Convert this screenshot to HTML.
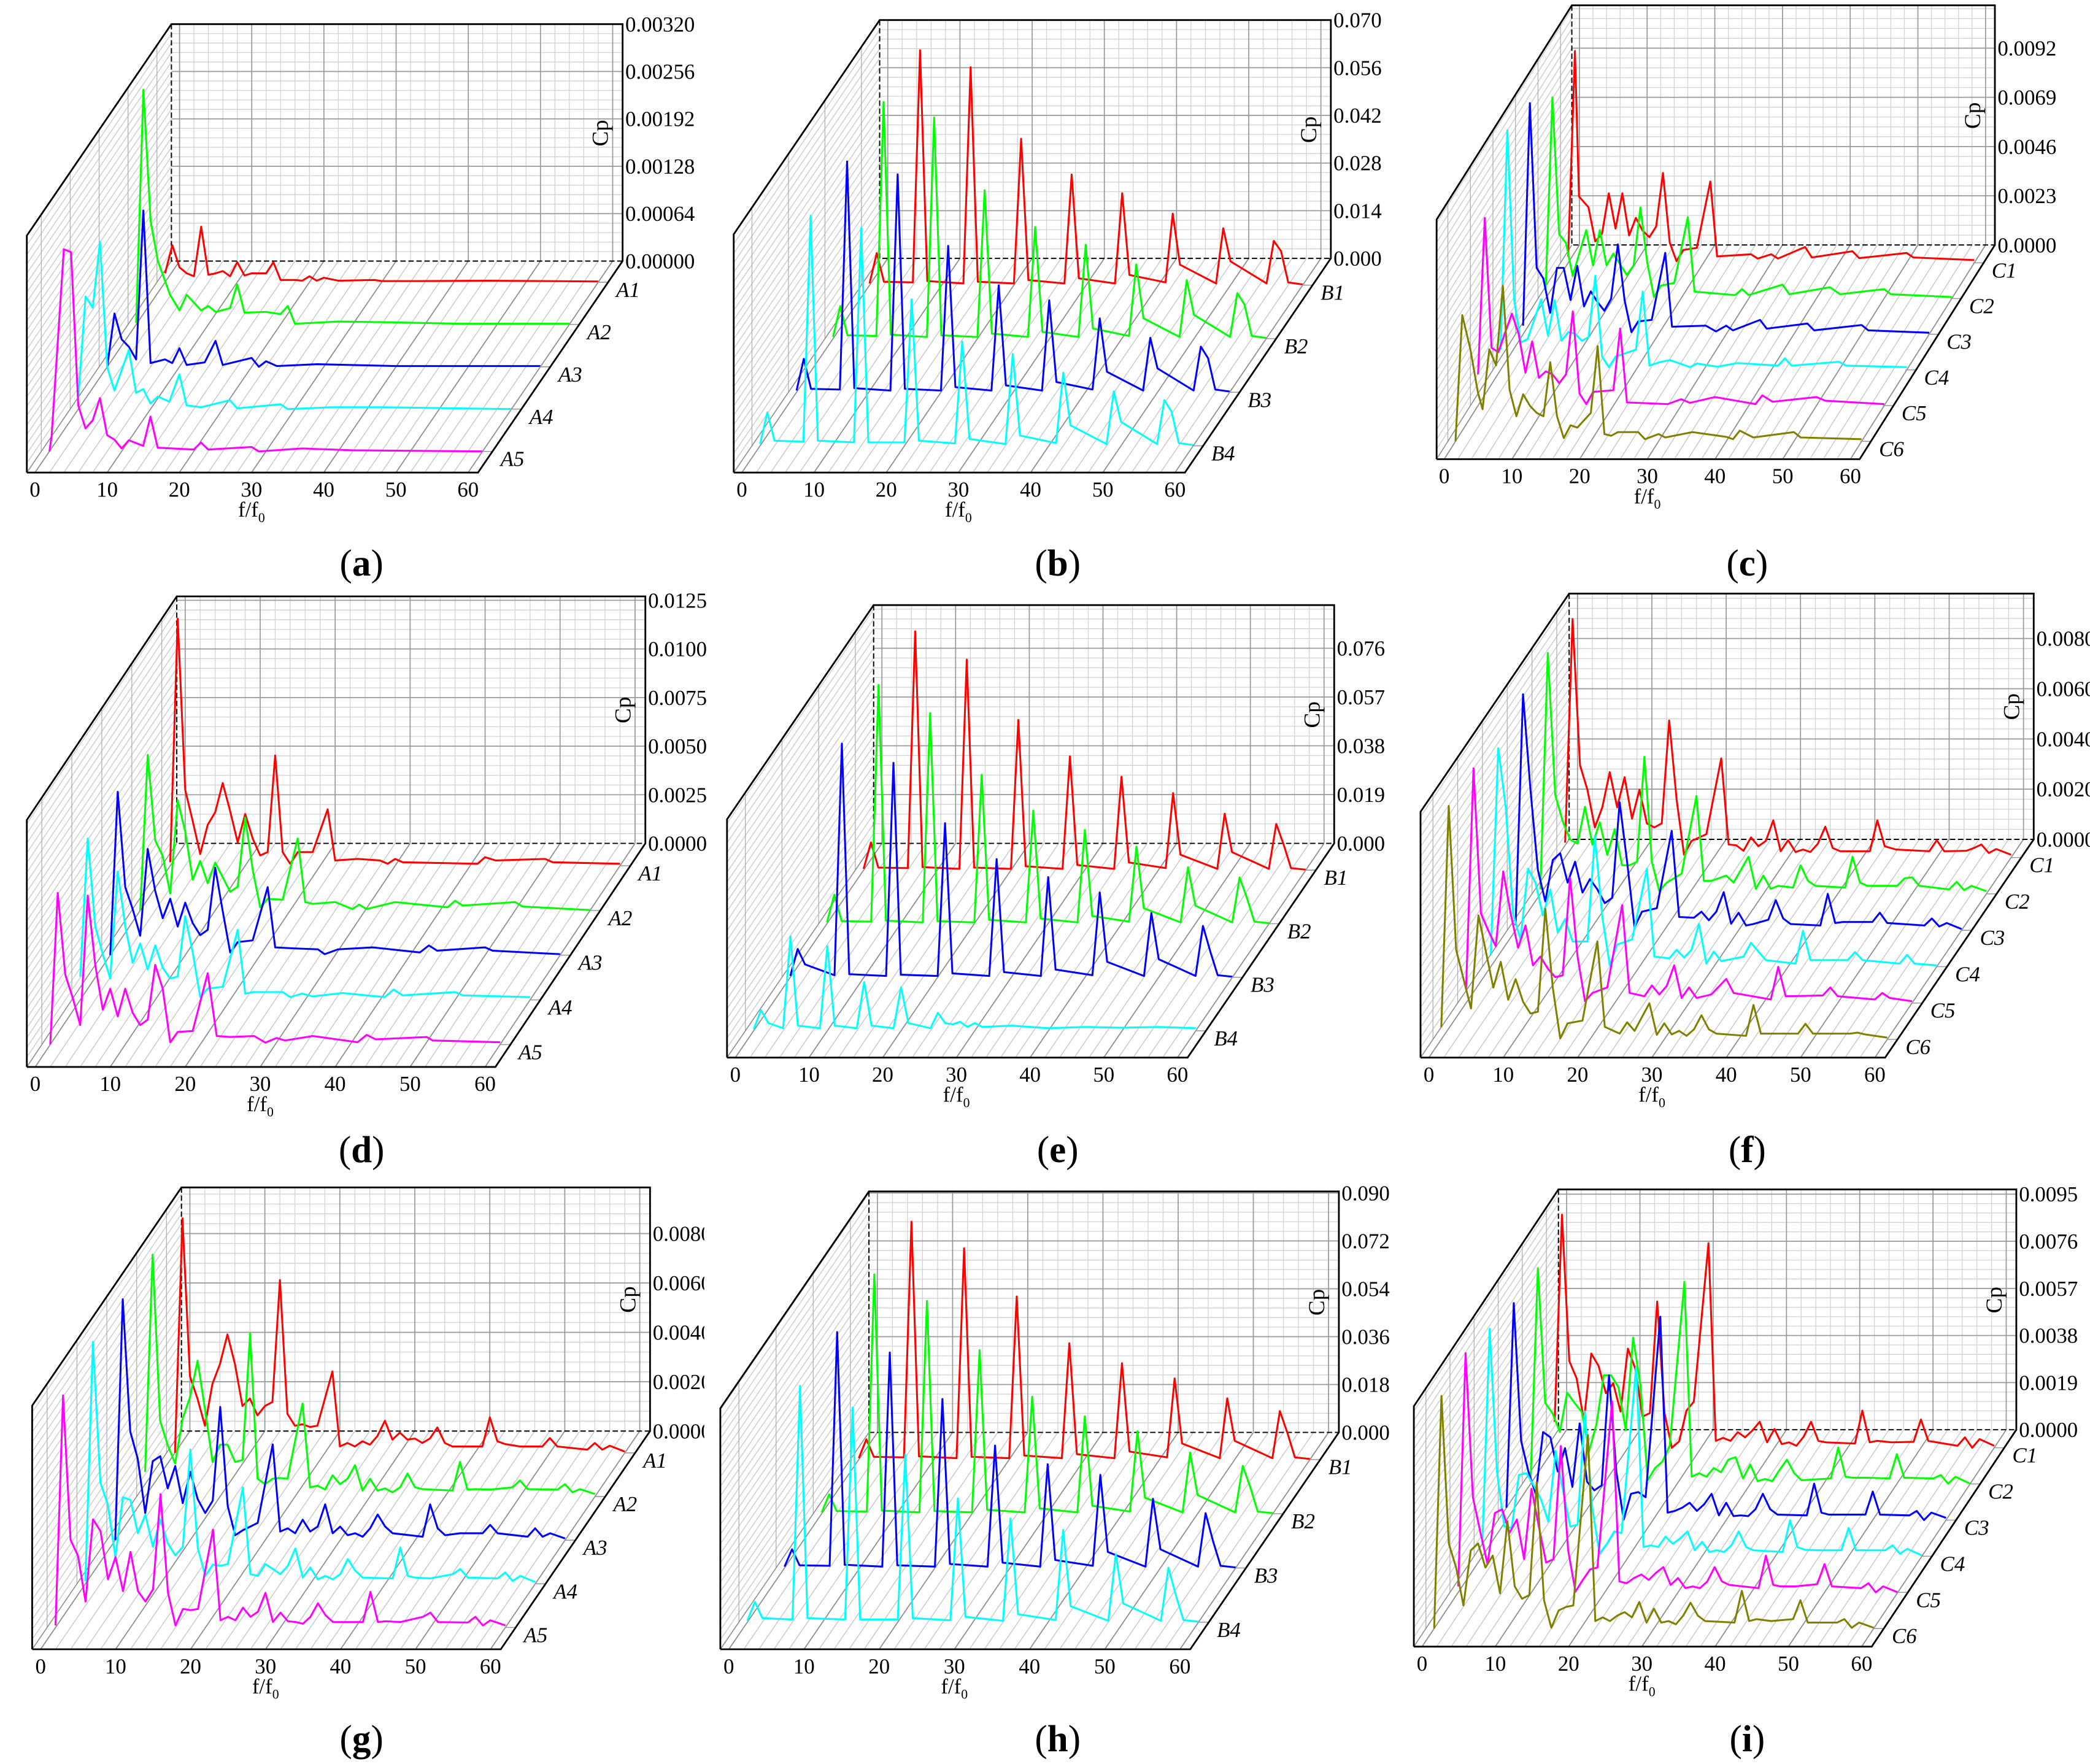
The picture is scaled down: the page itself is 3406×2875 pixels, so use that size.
<!DOCTYPE html>
<html><head><meta charset="utf-8">
<style>
html,body{margin:0;padding:0;background:#fff;}
svg{display:block;font-family:"Liberation Serif","DejaVu Serif",serif;}
svg text{font-family:"Liberation Serif","DejaVu Serif",serif;fill:#000;}
</style></head>
<body>
<svg id="chart" xmlns="http://www.w3.org/2000/svg" width="3406" height="2875" viewBox="0 0 1561 1317.7" font-family="Liberation Serif, DejaVu Serif, serif">
<defs><clipPath id="clip-g"><rect x="0" y="850" width="526" height="470"/></clipPath></defs>
<rect x="0" y="0" width="1561" height="1317.7" fill="#fff"/>
</svg>
<script>
// ---------- data (Cp values in panel units: a,c,d,f,g,i = 1e-4 ; b,e,h = 1e-3) ----------
const panelA_freq = [
 [0,1,2,3,4,5,6,7,8,9,10,11,12,13,14,15,16,18,19,20,21,22,24,29,30,35,45,60],
 [0,1,2,3,4.7,6,7,9,10,11,13,14,15,18,20,21,22,28,35,45,60],
 [0,1,2,3,4,5,6,8,9,10,11,13.5,15,16,20,21,22,23.5,29,40,60],
 [0,1,2,3,4,5,7,8,9,10,11,12.6,14,15,17,21,22,28,29,35,42,60],
 [0,0.3,2,3,4,5,6,7,8,9,10,11,13,14,15,20,21,22,28,29,35,42,60]];
const panelA_amp = [
 [1.2,5,2,1.2,0.8,7.5,1,1.2,1.5,0.8,2.7,0.9,1.2,1.2,1.2,2.7,0.3,0.3,0.2,0.8,0.2,0.6,0.2,0.3,0.15,0.15,0.2,0.1],
 [0.2,31.7,14,8.6,4,1.9,4,1.9,2.5,1.7,2.2,5.4,1.6,1.7,1.4,2.5,0.1,0.4,0.3,0.1,0.1],
 [0,7.2,3.7,2.7,1,21.1,0.5,1,0.5,2.5,0.25,0.6,3.5,0.25,1.2,0,0.75,0.1,0.35,0.1,0.1],
 [1.5,15.2,13.7,22.6,5.7,2.5,8,2.2,2.7,0.75,1.7,1,4.7,0.5,0.25,1.2,0.1,0.65,0,0.25,0.25,0],
 [0,2,27.3,26.9,6.2,3.1,4.2,7.2,2.2,1.6,0.4,1.5,0.75,4.7,0.5,0.25,1.2,0.25,0.6,0,0.4,0.15,0]];

const panelB_freq = [0,1,2,6,7,8,13,14,15,20,21,22,27,28,29,34,35,36,41,42,43,48,49,50,55,56,57,58,60];
const panelB_amp = [
 [0.5,9.4,1,0.8,69,1.2,0.5,64,1,0.5,43,1.5,0.5,32.5,2,0.5,27,3,0.8,21,6,0.5,16.7,7,0.5,13,10,0.8,0.2],
 [0.5,9.6,1,0.8,69.5,1.2,0.5,65,1,0.5,43.6,1.5,0.5,32.8,2,0.5,27.6,3,0.8,21.8,6,0.5,17.2,7,0.5,13.4,10,0.8,0.2],
 [0.5,9.8,1,0.8,67.8,1.2,0.5,64,1,0.5,43,1.5,0.5,31.4,2,0.5,27,3,0.8,21.7,6,0.5,16,7,0.5,13.4,10,0.8,0.2],
 [0.5,9.8,1.5,1.2,67.6,1.5,1,64,1,1,43,1.5,0.7,30.6,2,0.5,27,3,0.8,21.5,6,0.5,16,7,0.5,13.4,10,0.8,0.2]];

const panelC_freq = [
 [0,1,1.6,3,4,5,6,7,8,9,10,11,12,13,14,15,16,17,19,21,22,27,28,30,31,35,36,42,43,50,51,60],
 [0,1,2,3,4,6,7,8,9,10,12,13,14,15,16,17,19,21,22,28,29,30,35,36,42,43.5,50,51,60],
 [0,1,2,3,4,5,6,7,8,9,10,11,12,13,14,15,16,17,19,21,22,27,28.5,30,31,35,36,42,43,50,51,60],
 [0,1,2,3,4,6,7,8,9,10,11,12,13,14,15,16,17,20,21,22,23.5,25,28,29,32,35,41,42,43,50,51,60],
 [0,1,2,3,4,5,6,7,8,9,10,11,12,13,14,15,16,17,20,21,22,28,30,31.3,35,41,42,43.5,50,51.3,60],
 [0,1,2.2,3.3,4,5,6,7,8,9,10,11,12,13,14,15,16,17,18,20,21,22,23,24,27,28,30,31,35,40,41,42,44,50,51,60]];
const panelC_amp = [
 [3,99,31,26,10,13.6,32.5,16,32.5,12.8,21,15,12,17,42,9.5,0.8,6,7,38,3,4,2,4,2,7.4,2.5,5.4,2.2,4.6,2.5,1.3],
 [4,94,30,26,10.6,32,15.5,32,15.5,21,11,15.5,42.6,17,0.7,6,7.3,38,3.2,1.6,4.4,1.6,6.5,2,5.3,2,4.4,2,0.7],
 [4,108,31,26,10,31,31,16,32,13,20,15,11,16.6,42,15.8,1,6,6.7,38,3.5,4,1.3,4,1.8,6.7,2.6,5,1.8,4.3,1.8,0.7],
 [9.5,112,33,12.8,14.5,33,16,32.5,13.6,17.7,17,13.6,15.3,44,6.2,1.3,6.2,9.5,36.6,2,3.6,4.6,1.3,3,1.5,3.2,2,5.4,2,3.8,2,1.3],
 [14.6,87.7,27,25,34,43,33.5,15.4,30,13,16,14.6,10.5,14.6,44,5.6,0.7,6.4,7.2,36,1.5,0.7,3,1.3,4,0.7,4.8,1.8,4,2.3,0.7],
 [0,59,43,23,15,43,35.5,72.7,24,11.7,22,16.6,13.3,11.7,37,11.7,1.5,7.5,6.4,13.3,44.5,3.4,2.6,4.3,4.3,1,3.4,1.8,4.3,2.1,1,5,1.8,4.3,1.8,1]];

const panelD_freq = [
 [0,1,2,3,4,5,6,7,8,9,10,11,12,13,14,15,16,17,19,21,22,25,28,29,30,31,41,42,43.4,50,51,60],
 [0,1,2,3,4,5,6,7,8,9,10,12,13,14,15,16,17,19,21,22,23,26,28.3,29.2,30.2,34,41,42,43,50,51,60],
 [0,1,2,3,4,5,6,7,8,9,10,11,12,13,14,15,16,17,19,21,22,24.4,27.7,28.6,30.4,35,41.3,42.5,43.6,50,51,60],
 [0,1,2,3,4,5,6,7,8,9,10,11,12,13,14,15,16,17,19,21,22,23,27,28,29.6,31,35,40.6,41.8,43,50,51,60],
 [0,1,2,3,4,5,6,7,8,9,10,11,12,13,14,15,16,17,19,21,22.2,24,27.2,28.7,30.2,31.3,35,41,42.2,43.4,50.2,51,60]];
const panelD_amp = [
 [1.8,127,39,23,6,21,27.5,42.5,28,12,26.6,14,5.3,7,56.7,7,1,7,7,29,2.7,3.5,2.7,1,3.5,1.8,1,4.4,2.7,3.5,1.8,1],
 [0,80,36,28,8.7,56.6,40.6,15.8,25.5,14,24.6,9.6,12.2,47.7,21,1.6,6,5.5,37,4.3,3.4,4.3,0.7,3,0.7,4.3,1.6,5,2.5,4.3,2,0.2],
 [0,84,35,23.6,10,54.6,33,19,29,14.7,27,16.5,10.3,13,45,22.7,1.4,6.7,7.6,35,4,3.5,3,0.5,3,4,1.4,5,2.3,4,2.3,0.5],
 [12,83,37.8,23.6,11,66,37.8,19,29,15.6,28,16.5,11,12,43,24.5,1.4,5.8,6.7,36,3.2,4,4,1.4,3.2,1.8,3.5,1.4,5.3,2.3,4,2.3,1.4],
 [0,78,36,24,10,76.6,41,18,28.7,14.5,28.7,16.3,10,12.8,41,28.7,1.2,6.5,7,36.7,4.4,3.9,4.4,1,3.4,2.1,4.4,1.2,5,2.7,3.9,2.1,1.2]];

const panelE_freq = [
 [0,1,2,6,7,8,13,14,15,20,21,22,27,28,29,34,35,36,41,42,43,48,49,50,55,56,57,58,60],
 [0,1,2,6,7,8,13,14,15,20,21,22,27,28,29,34,35,36,41,42,43,48,49,50,55,56,57,58,60],
 [0,1,2,6,7,8,13,14,15,20,21,22,27,28,29,34,35,36,41,42,43,48,49,50,55,56,57,58,60],
 [0,1,2,4,5,6,9,10,11,14,15,16,19,20,21,24,25,26,27,28,29,30,31,35,40,45,50,55,60]];
const panelE_amp = [
 [0.5,10.8,1,0.8,93,1.2,0.5,82,1,0.5,58.5,1.5,0.5,44.3,2,0.5,36.4,3,0.8,30,6,0.5,22,7,0.5,18,10,0.8,0.2],
 [0.5,11.3,1,0.8,93,1.2,0.5,82,1,0.5,58,1.5,0.5,44,2,0.5,36.5,3,0.8,30,6,0.5,22,7,0.5,18,10,0.8,0.2],
 [0.5,11,5,0.8,91,1.2,0.5,83.5,1,0.5,60,1.5,0.5,46,2,0.5,39,3,0.8,33,6,0.5,25,7,0.5,20,10,0.8,0.2],
 [0.5,8,3,1,36.8,2,1,33,2,1,19,2,1,17,3,1,7,3,2.5,3.5,1.5,3,1.5,2,1,1.5,1.2,1.5,1]];

const panelF_freq = [
 [0,1,2,3,4,5,6,7,8,9,10,11,12,13,14,15,16,17,19,21,22,23,24,25,26,27,28,29,30,31,32,33,34,35,36,37,41,42,43,44.5,49,50,51,54,55,56,57,58,60],
 [0,1,2,3,4,5,6,7,8,9,10,11,12,13,14,15,16,17,19,21,22,23,25,26,28,29,30,31,32,34,35,36,37,41,42,43,44,48,49,50,51,55,56,57,58,60],
 [0,1,2,3,4,5,6,7,8,9,10,11,12,13,14,15,16,17,19,21,22,24,25,26,27,28,29,30,31,32,34,35,36,37,41,42,43,44,48,49,50,55,56,57,58,60],
 [0,1,2,3,4,5,6,7,8,9,10,11,12,13,14,15,16,17,19,21,22,24,25,26,27,28,29,30,31,34,35,36,37,41,42,43,48,49,50,55,56,57,60],
 [0,1,2,3,4,5,6,7,8,9,10,11,12,13,14,15,16,17,19,21,22,24,25,26,27,28,29,30,31,33,35,36,41,42,43,48,49,50,55,56,57,60],
 [0,1,2,3,4,5,6,7,8,9,10,11,12,13,14,15,16,17,19,21,22,24,25,26,28,29,30,31,32,33,34,35,36,37,41,42,43,48,49,50,55,56,57,60]];
const panelF_amp = [
 [5.9,95,36.8,27,12,20,34,20,32,15.5,27,13.6,12,13.6,54.6,23,1.1,6.6,9.3,39.5,5.2,4.9,2.7,8,4.5,6.6,14.8,2.5,6.9,2.2,3.2,2.2,5.5,12.3,3.8,2.5,2.5,14.8,4.5,3.2,2.5,6.9,2.5,2.7,3.8,5.2,1.8,3.4,1.1],
 [1.8,96,39.5,29,21.7,20,34.7,19.6,28.5,15.5,25.8,11.4,11.4,12.8,54.6,12.8,1.1,4.5,8,39,5.2,5.2,7.3,4.5,14.8,2,7.3,2,3.2,2.5,11.4,5.2,3.2,2.5,14.8,4.5,3.2,3.2,6.2,6.6,3.2,1.8,4.8,1.5,3.2,1.1],
 [2,94,56,24,11.5,28,30.7,19,27.3,15,20.4,16.3,10.8,12.9,51,27.3,1.2,7.4,8.8,39.6,5.3,5,7.4,4,7.4,15.2,2.6,7,1.9,2.5,4.2,12,4.7,2.5,1.9,14.5,2.9,3.3,3.3,7,2.9,1.9,4.7,1.5,2.9,0.5],
 [5,87,63.6,21,10.8,39,33.5,20.4,30.7,13.6,19,10,10,10,52,19.8,0.5,8.8,10.8,39,4,3.3,6.7,3.6,6.7,17,1.2,6,2.2,4,9.5,6,2.6,1.2,14.3,2.6,2.6,5.8,2.6,1.2,4.7,1.2,0.5],
 [5.5,93.5,35.7,28.8,22.6,52.4,35.7,22,30.9,15,18.5,13.7,10.3,11,50,18.5,0.7,4,6.2,39,4,2.7,7,3.4,6.8,15,2,6.2,2,3.4,9.6,4,1.4,14.4,2.7,3,6.2,2.7,1.4,4,2,0.7],
 [4.8,93,35.7,24,12.3,49.4,35,20.6,30.9,15.8,24,15,10.3,11,52,20.6,0.4,6.4,7.5,39,5,2.3,6.8,3.4,14.4,1.8,6.4,2,3.4,1.4,4,9.6,4,2.3,1.4,13.7,2.3,2.3,6.2,2.3,2.3,2.7,2,0.7]];

const panelG_freq = [0,1,2,3,4,5,6,7,8,9,10,11,12,13,14,15,16,17,18,19,21,22,23,24,25,26,27,28,29,30,31,32,33,34,35,36,37,41,42,43,44,46,49,50,51,55,56,57,58,60];
const panelG_amp = [
 [0,95,31,22,11,28,36,48,36,19,22,15.2,19,20.6,70,15.8,11,11.6,10.5,11,33,2.6,4,2.6,4.7,3.3,6.8,13,5.4,8.2,5.4,5.8,4,5.8,10.3,4,2.6,2.6,14.4,4.7,3.6,2.6,2.6,6,2.6,1.3,4,1.3,2.9,0.5],
 [10,98,30.7,21,13.4,31.4,40.4,55,35,14,21,21,14,14.8,66,7.2,5,7.2,7.5,7.2,37.7,3.7,4.4,2.8,8.6,5,7.2,12.7,2.4,7.2,2.4,3.3,1.7,3.7,9.3,3.7,3,2.4,14,2.8,3,2.8,3.7,6.5,3,2.8,5,1.7,3,1],
 [0,97.6,44,33,11,32,34,21,30,15,27.7,16.6,11,16,54,13.8,2,4,5.5,7,38.8,3.5,4.8,2.8,8.3,3.5,5.5,14.5,2.8,5.5,2,2.8,1.4,4.8,10.4,5.5,2.8,1.4,14.5,4.8,2,2.8,2.8,6.2,2.8,1.4,4.8,1.4,2.8,0.7],
 [1,98,41,32,10.8,35,34,20.5,28,15,26,16.3,11.5,15,54.4,14.3,3.2,7.8,7.3,8,39,3.9,3.2,8,6,3.9,7.3,14.3,2.5,6.6,1.8,3.2,1.8,3.9,10,5.3,2.5,2.2,14.7,3.2,2.5,2.2,3.9,6,2.5,2.2,4.6,1.1,3.2,0.7],
 [0.8,94,35.5,29,10.5,43.8,39,19.5,28.5,14.7,30.6,14.7,10.5,15.4,54,14,0.8,7.5,7,7.5,39.6,2.9,4.3,2.9,8,4.3,6.4,14,2.2,6,2.5,2.2,1.5,4.3,9.8,5,2.2,2.2,14.4,2.2,2.5,2.2,4.3,6,2.2,2,4.3,0.8,2.9,0.8]];

const panelH_freq = [0,1,2,6,7,8,13,14,15,20,21,22,27,28,29,34,35,36,41,42,43,48,49,50,55,56,57,58,60];
const panelH_amp = [
 [0.5,7.6,1,0.8,89.4,1.2,0.5,79.4,1,0.5,61.3,1.5,0.5,43.7,2,0.5,36.2,3,0.8,30.5,6,0.5,23,7,0.5,18.2,10,0.8,0.2],
 [0.5,7.3,1,0.8,90,1.2,0.5,80,1,0.5,61.5,1.5,0.5,44,2,0.5,36.6,3,0.8,31,6,0.5,23,7,0.5,18,10,0.8,0.2],
 [0.5,7,1,0.8,88.7,1.2,0.5,81,1,0.5,63.5,1.5,0.5,46,2,0.5,39,3,0.8,35,6,0.5,26,7,0.5,20.6,10,0.8,0.2],
 [0.5,7.6,1.5,1,88.8,1.5,1,80.7,1,1,63,1.5,0.7,46.5,2,0.5,39,3,0.8,34.7,6,0.5,25.6,7,0.5,20.5,10,0.8,0.2]];

const panelI_freq = [0,1,2,3,4,5,6,7,8,9,10,11,12,13,14,15,16,17,18,19,21,22,23,24,25,26,27,28,29,30,31,32,33,34,35,36,37,41,42,43,44,46,49,50,51,55,56,57,58,60];
const panelI_amp = [
 [10.5,94,35,28,11,38,33,22,26,14.6,40,32,12.6,14,59,14,0,2.6,15,18.6,82.5,2.8,4,2.8,6.3,4.2,7,10.5,2.2,7.6,1.5,2.2,0.8,4.5,10.5,2.8,2.2,1.7,15,2.2,2.8,2.2,2.4,11.4,2.8,0.8,4.2,0,3.5,0.8],
 [0.8,87,32.7,28.5,21,36.8,32.7,29,13.3,24,43.8,43.8,39,21.6,59,40,1.5,6.4,9,15.4,81.4,2.9,4.3,2.9,6.4,4.7,9.8,10.8,2.2,7.8,1.1,2,1.1,5.7,9.8,4.3,1.5,2.2,14.7,2.9,2.5,2.5,2.2,12,2.5,2.2,3.6,0.1,2.9,0.1],
 [5,87.5,32,19.6,10.6,35.5,33.4,19.6,29,13.4,39,15.5,12,14,58.4,19.6,0.2,10.6,11.3,9.2,82,3,3.7,5,7,3.7,6.4,10.6,1.9,7,1.6,1.9,1.6,4.4,10.6,4.4,2.2,1.9,14.7,3,2.2,2.2,2.2,11.5,2.2,1.9,3.7,0,3,0.9],
 [5,91.7,34,12,11.4,32.8,33.5,28.7,23,14,42.5,26.6,12,12.7,58.4,19.7,1,5,10,9.3,76.5,3.7,4.4,3.7,7.9,5,7.2,10,2.4,5.8,1.7,2.4,1.7,4.4,10,3.7,2.4,1.7,14.5,3.7,2.6,2.4,2.4,11.4,2.4,2.4,4.4,1,3,0.3],
 [2.4,96.5,38.4,24.5,11.4,32,33.5,24,29.4,13.4,41.8,26.6,12,13.4,59,17,0.3,5,9.3,10,77,4.4,3.7,5.8,7.2,5,7.9,10.2,3,5.8,1.7,2.4,1.7,4.4,10.2,4.4,3,1.7,14.8,3,2.4,2.4,3.3,11.4,2.4,1.7,3.7,0,2.4,0],
 [0,93.8,34.3,24.6,9.3,31.5,34.3,24.6,29.4,14.2,43.3,17,12,13.5,59,11.4,0.3,7.3,8.7,9.3,78,3,4.5,3,5.2,6.6,4.5,10.7,2.4,8,2.4,3,1.7,5.2,10.4,5.2,3,2.4,15.2,3,3.8,3,3.8,11.4,2.4,2.4,3.8,0.3,2.4,0.3]];

const ticksA = [0,6.4,12.8,19.2,25.6,32];
const tickLabelsA = ["0.00000","0.00064","0.00128","0.00192","0.00256","0.00320"];
const ticksB = [0,14,28,42,56,70];
const tickLabelsB = ["0.000","0.014","0.028","0.042","0.056","0.070"];
const ticksC = [0,23,46,69,92];
const tickLabelsC = ["0.0000","0.0023","0.0046","0.0069","0.0092"];
const ticksD = [0,25,50,75,100,125];
const tickLabelsD = ["0.0000","0.0025","0.0050","0.0075","0.0100","0.0125"];
const ticksE = [0,19,38,57,76];
const tickLabelsE = ["0.000","0.019","0.038","0.057","0.076"];
const ticksF = [0,20,40,60,80];
const tickLabelsF = ["0.0000","0.0020","0.0040","0.0060","0.0080"];
const ticksG = [0,20,40,60,80];
const tickLabelsG = ["0.0000","0.0020","0.0040","0.0060","0.0080"];
const ticksH = [0,18,36,54,72,90];
const tickLabelsH = ["0.000","0.018","0.036","0.054","0.072","0.090"];
const ticksI = [0,19,38,57,76,95];
const tickLabelsI = ["0.0000","0.0019","0.0038","0.0057","0.0076","0.0095"];
const xTickValues = [0,10,20,30,40,50,60];

const colorsA = ['#ff0000','#00ff00','#0000ff','#00ffff','#ff00ff'];
const colorsB = ['#ff0000','#00ff00','#0000ff','#00ffff'];
const colorsC = ['#ff0000','#00ff00','#0000ff','#00ffff','#ff00ff','#808000'];

// ---------- drawing ----------
const NS = 'http://www.w3.org/2000/svg';
const svg = document.getElementById('chart');
const FONT = 'Liberation Serif, DejaVu Serif, serif';
function mk(tag, attrs, parent){
  const el = document.createElementNS(NS, tag);
  for (const k in attrs) el.setAttribute(k, attrs[k]);
  if (tag === 'text') el.setAttribute('font-family', FONT);
  (parent || svg).appendChild(el);
  return el;
}

function drawPanel(P){
  const grp = mk('g', P.clip ? {'clip-path':'url(#'+P.clip+')'} : {});
  
  
  const N = P.amps.length;
  const X = (f, d) => P.L + (0.018 + 0.96 * f / 60) * P.W + (1 - d) * P.dx;
  const Y = (v, d) => P.FB - (1 - d) * P.dy - v / P.vmax * P.H;
  const top = P.FB - P.dy - P.H, bx0 = P.L + P.dx, bx1 = P.L + P.W + P.dx, by = P.FB - P.dy;
  const minorStep = P.ticks[1] / 5;

  let d1 = '';
  for (let f = 0; f <= 60; f += 2) if (f % 10) d1 += 'M' + X(f,0) + ' ' + by + 'V' + top;
  for (let v = minorStep; v < P.vmax; v += minorStep) d1 += 'M' + bx0 + ' ' + Y(v,0) + 'H' + bx1;
  const bm = mk('path', {d:d1, stroke:'#d2d2d2', 'stroke-width':0.6, fill:'none'}, grp);
  
  
  let d2 = '';
  for (let f = 0; f <= 60; f += 10) d2 += 'M' + X(f,0) + ' ' + by + 'V' + top;
  P.ticks.forEach(t => { if (t > 0) d2 += 'M' + bx0 + ' ' + Y(t,0) + 'H' + bx1; });
  const bM = mk('path', {d:d2, stroke:'#9a9a9a', 'stroke-width':0.8, fill:'none'}, grp);
  
  

  let d3 = '', d4 = '';
  for (let f = 0; f <= 60; f += 2){
    const s = 'M' + X(f,1) + ' ' + P.FB + 'L' + X(f,0) + ' ' + by;
    if (f % 10) d3 += s; else d4 += s;
  }
  const fm = mk('path', {d:d3, stroke:'#c4c4c4', 'stroke-width':0.6, fill:'none'}, grp);
  
  
  const fM = mk('path', {d:d4, stroke:'#8c8c8c', 'stroke-width':0.8, fill:'none'}, grp);
  
  

  let d5 = '', d6 = '';
  for (let v = minorStep; v < P.vmax; v += minorStep){
    const h = v / P.vmax * P.H;
    d5 += 'M' + P.L + ' ' + (P.FB - h) + 'L' + bx0 + ' ' + (by - h);
  }
  for (let i = 0; i < N; i++){
    const dd = (i + 0.5) / N, xx = P.L + (1 - dd) * P.dx, yy = P.FB - (1 - dd) * P.dy;
    d6 += 'M' + xx + ' ' + yy + 'V' + (yy - P.H);
  }
  const lw = mk('path', {d:d5, stroke:'#c8c8c8', 'stroke-width':0.6, fill:'none'}, grp);
  
  
  const lv = mk('path', {d:d6, stroke:'#b0b0b0', 'stroke-width':0.6, fill:'none'}, grp);
  
  
  const fl = mk('line', {x1:P.L, y1:P.FB, x2:bx0, y2:by, stroke:'#888', 'stroke-width':0.7}, grp);
  
  

  const dash = mk('path', {d:'M'+bx0+' '+top+'V'+by+'H'+bx1, stroke:'#000', 'stroke-width':0.9, 'stroke-dasharray':'4 2', fill:'none'}, grp);
  
  

  for (let i = 0; i < N; i++){
    const dd = (i + 0.5) / N;
    const fr = P.freqs[i], am = P.amps[i];
    let pts = [];
    for (let k = 0; k < fr.length; k++) pts.push(X(fr[k], dd).toFixed(2) + ',' + Y(am[k], dd).toFixed(2));
    const pl = mk('polyline', {points:pts.join(' '), fill:'none', stroke:P.colors[i], 'stroke-width':1.4, 'stroke-linejoin':'round'}, grp);
    
    
    const ex = P.L + P.W + (1 - dd) * P.dx, ey = P.FB - (1 - dd) * P.dy;
    const stub = mk('line', {x1:ex - 8, y1:ey, x2:ex, y2:ey, stroke:'#999', 'stroke-width':0.7}, grp);
    
    
    const lb = mk('text', {x:ex + 6, y:ey + 11, 'font-size':16, 'font-style':'italic'}, grp);
    lb.textContent = P.prefix + (i + 1);
    
    
  }

  const fr = mk('path', {d:'M'+P.L+' '+P.FB+'V'+(P.FB-P.H)+'L'+bx0+' '+top+'H'+bx1+'V'+by+'L'+(P.L+P.W)+' '+P.FB+'H'+P.L, stroke:'#000', 'stroke-width':1.3, fill:'none', 'stroke-linejoin':'miter'}, grp);
  
  

  P.ticks.forEach((t, k) => {
    const tl = mk('text', {x:bx1 + 2, y:Y(t,0) + 5.5, 'font-size':16}, grp);
    tl.textContent = P.tickLabels[k];
    
    
  });
  const cp = mk('text', {x:0, y:0, 'font-size':17, 'text-anchor':'middle', transform:'translate('+(bx1-11)+','+(top+P.H*0.46)+') rotate(-90)'}, grp);
  cp.textContent = 'Cp';
  
  

  xTickValues.forEach(f => {
    const xl = mk('text', {x:X(f,1), y:P.FB + 18, 'font-size':16, 'text-anchor':'middle'}, grp);
    xl.textContent = String(f);
    
    
  });
  const xt = mk('text', {x:X(30,1), y:P.FB + 33, 'font-size':16, 'text-anchor':'middle'}, grp);
  xt.textContent = 'f/f';
  const sub = mk('tspan', {'font-size':10, dy:4}, xt);
  sub.textContent = '0';
  
  

  const pt = mk('text', {x:P.lx, y:P.ly, 'font-size':28, 'text-anchor':'middle'});
  pt.textContent = '(';
  const b = mk('tspan', {'font-weight':'bold'}, pt);
  b.textContent = P.id;
  const c2 = mk('tspan', {}, pt);
  c2.textContent = ')';
  
  
}

drawPanel({id:'a', L:20, W:337, FB:353, dx:108, dy:158, H:177, vmax:32, ticks:ticksA, tickLabels:tickLabelsA, freqs:panelA_freq, amps:panelA_amp, colors:colorsA, prefix:'A', lx:270, ly:430});
drawPanel({id:'b', L:548, W:337, FB:353, dx:109, dy:160, H:178, vmax:70, ticks:ticksB, tickLabels:tickLabelsB, freqs:panelB_amp.map(() => panelB_freq), amps:panelB_amp, colors:colorsB, prefix:'B', lx:790, ly:430});
drawPanel({id:'c', L:1073, W:316, FB:343, dx:101, dy:160, H:179, vmax:112, ticks:ticksC, tickLabels:tickLabelsC, freqs:panelC_freq, amps:panelC_amp, colors:colorsC, prefix:'C', lx:1305, ly:430});
drawPanel({id:'d', L:20, W:350, FB:797, dx:112, dy:167, H:184.5, vmax:127, ticks:ticksD, tickLabels:tickLabelsD, freqs:panelD_freq, amps:panelD_amp, colors:colorsA, prefix:'A', lx:270, ly:868});
drawPanel({id:'e', L:543, W:344, FB:790, dx:109.5, dy:160, H:178, vmax:92.8, ticks:ticksE, tickLabels:tickLabelsE, freqs:panelE_freq, amps:panelE_amp, colors:colorsB, prefix:'B', lx:790, ly:868});
drawPanel({id:'f', L:1061, W:347, FB:790, dx:111, dy:163, H:183.6, vmax:97.9, ticks:ticksF, tickLabels:tickLabelsF, freqs:panelF_freq, amps:panelF_amp, colors:colorsC, prefix:'C', lx:1305, ly:868});
drawPanel({id:'g', L:24, W:350, FB:1232, dx:111.5, dy:163, H:182, vmax:98.7, ticks:ticksG, tickLabels:tickLabelsG, freqs:panelG_amp.map(() => panelG_freq), amps:panelG_amp, colors:colorsA, prefix:'A', lx:270, ly:1308, clip:'clip-g'});
drawPanel({id:'h', L:538, W:351, FB:1232, dx:111, dy:162, H:180, vmax:90.6, ticks:ticksH, tickLabels:tickLabelsH, freqs:panelH_amp.map(() => panelH_freq), amps:panelH_amp, colors:colorsB, prefix:'B', lx:790, ly:1308});
drawPanel({id:'i', L:1056, W:342, FB:1230, dx:108, dy:162, H:179.5, vmax:96.9, ticks:ticksI, tickLabels:tickLabelsI, freqs:panelI_amp.map(() => panelI_freq), amps:panelI_amp, colors:colorsC, prefix:'C', lx:1305, ly:1308});
</script>
</body></html>
